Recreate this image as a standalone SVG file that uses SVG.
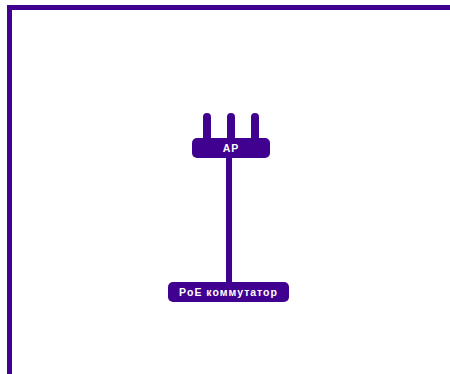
<svg xmlns="http://www.w3.org/2000/svg" width="450" height="374" viewBox="0 0 450 374">
<style>
.c{fill:none;stroke:#400090;stroke-width:6}
.f{fill:none;stroke:#400090;stroke-width:5}
.a{fill:none;stroke:#400090;stroke-width:8;stroke-linecap:round}
.b{fill:#400090}
.t{fill:#fff;font-family:"Liberation Sans",Arial,sans-serif;font-size:10.500px;font-weight:bold;letter-spacing:1px;text-anchor:middle}
</style>
<rect width="450" height="374" fill="#fff"/>
<g id="frame"><path class="f" d="M9.500 374V7.500H450"/></g>
<g id="connectors"><path class="c" d="M229 156V284"/></g>
<g id="ap">
<path class="a" d="M207 117V140M231 117V140M255 117V140"/>
<rect class="b" x="192" y="138" width="78" height="20" rx="5"/>
<text class="t" x="231" y="152">AP</text>
</g>
<g id="poe">
<rect class="b" x="168" y="282" width="121" height="20" rx="5"/>
<text class="t" x="228.500" y="296">PoE коммутатор</text>
</g>
</svg>
